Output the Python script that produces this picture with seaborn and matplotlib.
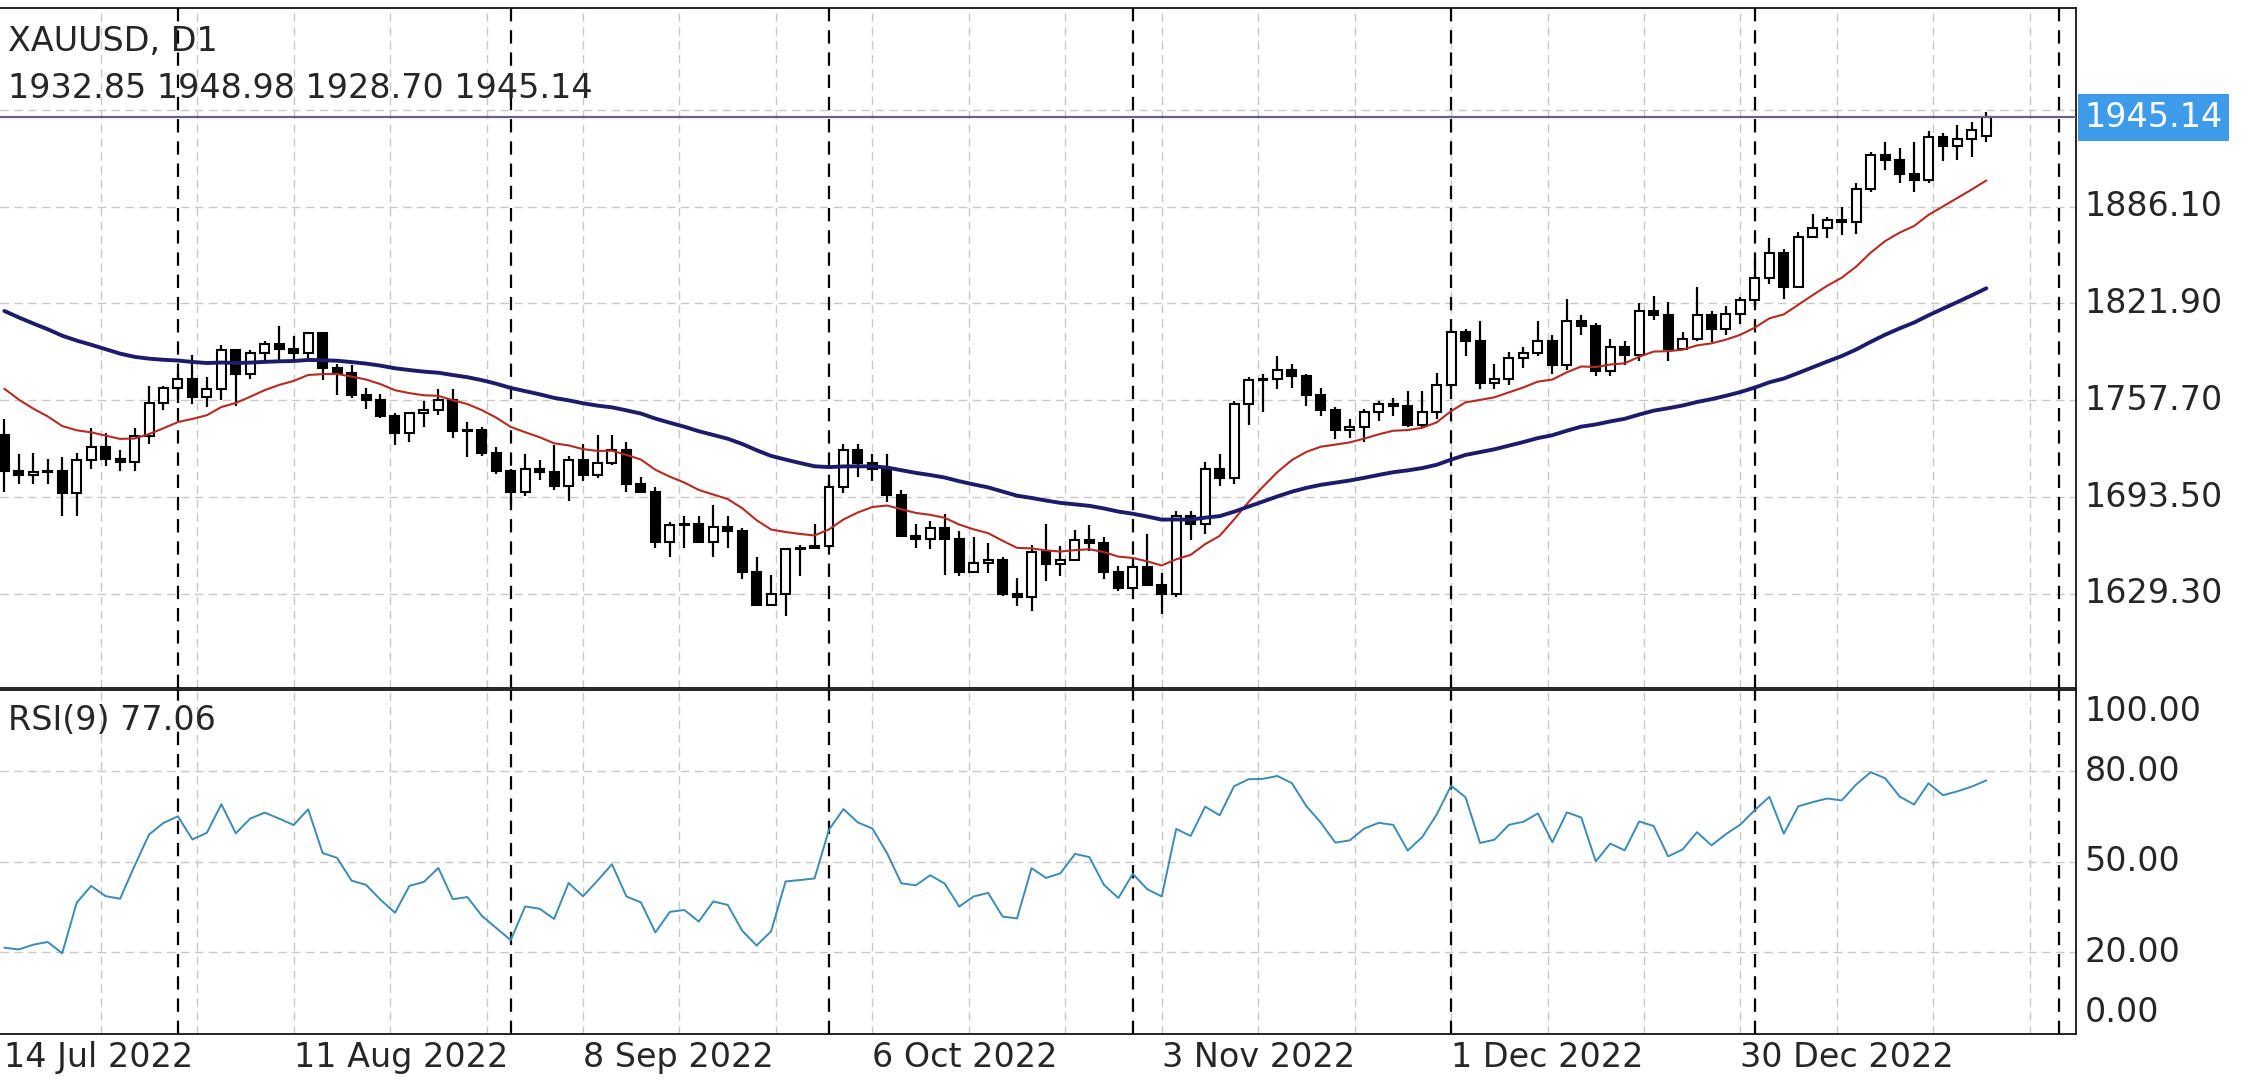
import numpy as np
import pandas as pd
import matplotlib
matplotlib.use("Agg")
import matplotlib.pyplot as plt
import seaborn as sns

# closes before the visible window, only used to warm up the averages / RSI
warmup_close = [1896, 1863, 1868, 1882, 1876, 1883, 1853, 1858, 1841, 1853, 1824, 1811, 1823, 1818,
                1815, 1841, 1842, 1846, 1866, 1853, 1849, 1837, 1847, 1870, 1851, 1841, 1852, 1853,
                1848, 1871, 1819, 1808, 1834, 1858, 1840, 1839, 1833, 1838, 1822, 1830, 1826, 1817,
                1807, 1811, 1764, 1739, 1740, 1742, 1733, 1725, 1735]

bar_open = [1735, 1711, 1708, 1710, 1711, 1696, 1718, 1727, 1719, 1717, 1734, 1756,
            1766, 1772, 1760, 1765, 1791, 1775, 1789, 1795, 1792, 1789, 1802, 1779, 1776, 1761, 1758, 1747,
            1736, 1749, 1751, 1758, 1737, 1738, 1723,
            1711, 1697, 1712, 1710, 1701, 1718, 1708, 1716, 1725, 1702, 1697, 1664, 1675, 1676, 1664, 1674,
            1671, 1644, 1622, 1629, 1659, 1660,
            1661, 1700, 1725, 1716, 1712, 1695, 1668, 1666, 1673, 1666, 1644, 1650, 1652, 1629, 1627, 1657,
            1649, 1652, 1665, 1663, 1644,
            1633, 1647, 1635, 1629, 1681, 1676, 1712, 1706, 1755, 1771, 1772, 1778, 1774, 1761, 1751, 1738,
            1740, 1750, 1755, 1754, 1741, 1750,
            1768, 1803, 1797, 1769, 1772, 1786, 1789, 1797, 1781, 1810, 1807, 1777, 1793, 1788, 1817, 1814,
            1792, 1798, 1814, 1805, 1815,
            1824, 1839, 1855, 1833, 1866, 1872, 1877, 1876, 1898, 1920, 1917, 1908, 1904, 1932, 1926, 1931,
            1932.85]
bar_high = [1745, 1722, 1723, 1719, 1720, 1723, 1739, 1736, 1725, 1739, 1767, 1767,
            1775, 1788, 1773, 1794, 1792, 1791, 1797, 1807, 1800, 1802, 1802, 1782, 1781, 1766, 1762, 1749,
            1750, 1757, 1765, 1765, 1743, 1740, 1727,
            1712, 1722, 1718, 1728, 1721, 1729, 1735, 1735, 1730, 1707, 1700, 1677, 1681, 1681, 1688, 1681,
            1673, 1654, 1642, 1660, 1662, 1676,
            1704, 1729, 1729, 1722, 1722, 1698, 1676, 1678, 1682, 1671, 1667, 1663, 1654, 1640, 1662, 1676,
            1661, 1672, 1675, 1667, 1648,
            1653, 1669, 1643, 1684, 1684, 1717, 1722, 1757, 1773, 1775, 1787, 1782, 1775, 1766, 1753, 1745,
            1752, 1757, 1759, 1764, 1764, 1776,
            1805, 1805, 1810, 1782, 1790, 1793, 1810, 1801, 1825, 1814, 1809, 1798, 1797, 1822, 1827, 1823,
            1803, 1833, 1817, 1820, 1826,
            1850, 1865, 1858, 1869, 1881, 1879, 1886, 1902, 1922, 1929, 1925, 1929, 1936, 1935, 1940, 1942,
            1948.98]
bar_low = [1697, 1702, 1702, 1702, 1681, 1681, 1712, 1714, 1711, 1711, 1729, 1751,
           1756, 1755, 1753, 1758, 1754, 1772, 1784, 1784, 1784, 1785, 1771, 1761, 1759, 1752, 1746, 1728,
           1730, 1740, 1748, 1733, 1720, 1721, 1709,
           1688, 1694, 1705, 1698, 1691, 1704, 1706, 1715, 1697, 1696, 1660, 1654, 1660, 1664, 1654, 1660,
           1639, 1622, 1621, 1615, 1641, 1659,
           1660, 1696, 1707, 1704, 1690, 1667, 1660, 1659, 1642, 1641, 1643, 1643, 1628, 1621, 1618, 1638,
           1641, 1651, 1658, 1639, 1631,
           1631, 1635, 1616, 1627, 1665, 1669, 1701, 1702, 1741, 1750, 1765, 1766, 1754, 1747, 1732, 1733,
           1730, 1744, 1747, 1740, 1740, 1745,
           1767, 1787, 1765, 1765, 1768, 1779, 1787, 1775, 1778, 1801, 1774, 1774, 1781, 1784, 1811, 1784,
           1791, 1797, 1796, 1801, 1808,
           1820, 1835, 1825, 1833, 1866, 1865, 1867, 1868, 1896, 1910, 1902, 1896, 1902, 1916, 1917, 1919,
           1928.70]
bar_close = [1711, 1708, 1710, 1711, 1696, 1718, 1727, 1719, 1717, 1734, 1756, 1766,
             1772, 1760, 1765, 1791, 1775, 1789, 1795, 1792, 1789, 1802, 1779, 1776, 1761, 1758, 1747, 1736,
             1749, 1751, 1758, 1737, 1738, 1723, 1711,
             1697, 1712, 1710, 1701, 1718, 1708, 1716, 1725, 1702, 1697, 1664, 1675, 1676, 1664, 1674, 1671,
             1644, 1622, 1629, 1659, 1660, 1661,
             1700, 1725, 1716, 1712, 1695, 1668, 1666, 1673, 1666, 1644, 1650, 1652, 1629, 1627, 1657, 1649,
             1652, 1665, 1663, 1644, 1633,
             1647, 1635, 1629, 1681, 1676, 1712, 1706, 1755, 1771, 1772, 1778, 1774, 1761, 1751, 1738, 1740,
             1750, 1755, 1754, 1741, 1750, 1768,
             1803, 1797, 1769, 1772, 1786, 1789, 1797, 1781, 1810, 1807, 1777, 1793, 1788, 1817, 1814, 1792,
             1798, 1814, 1805, 1815, 1824,
             1839, 1855, 1833, 1866, 1872, 1877, 1876, 1898, 1920, 1917, 1908, 1904, 1932, 1926, 1931, 1937,
             1945.14]

holidays = ["2022-12-26", "2023-01-02"]
all_days = pd.bdate_range("2022-07-14", "2023-02-10")
all_days = all_days[~all_days.isin(pd.to_datetime(holidays))]
dates = all_days[:len(bar_close)]

price_ticks = [1629.30, 1693.50, 1757.70, 1821.90, 1886.10]
rsi_ticks = [0, 20, 50, 80, 100]

# ---- indicators
full = pd.Series(warmup_close + bar_close, dtype=float)
n0 = len(warmup_close)
ema_fast = full.ewm(span=15, adjust=False).mean().iloc[n0:].to_numpy()
ema_slow = full.ewm(span=50, adjust=False).mean().iloc[n0:].to_numpy()
delta = full.diff()
gain = delta.clip(lower=0).ewm(alpha=1 / 9, adjust=False).mean()
loss = (-delta.clip(upper=0)).ewm(alpha=1 / 9, adjust=False).mean()
rsi = (100 - 100 / (1 + gain / loss)).iloc[n0:].to_numpy()

df = pd.DataFrame({"i": np.arange(len(bar_close)), "o": bar_open, "h": bar_high,
                   "l": bar_low, "c": bar_close, "fast": ema_fast, "slow": ema_slow, "rsi": rsi})

sns.set_style("white")
plt.rcParams["font.family"] = ["DejaVu Sans"]
FS = 24
fig = plt.figure(figsize=(22.64, 10.8), dpi=100)
ax = fig.add_axes([0.0, 0.363, 0.917, 0.630])
ax2 = fig.add_axes([0.0, 0.043, 0.917, 0.318], sharex=ax)

xmax = 143.2
grid_kw = dict(color="#c8c8c8", lw=1.0, ls=(0, (6, 4)), zorder=0)
vgrid = np.arange(20 / 3, xmax, 20 / 3)
month_idx = [k for k in range(1, len(all_days)) if all_days[k].month != all_days[k - 1].month]
for a in (ax, ax2):
    for x in vgrid:
        a.axvline(x, **grid_kw)
    for k in month_idx:
        if k < xmax:
            a.axvline(k, color="black", lw=1.6, ls=(0, (6, 4)), zorder=1)
    a.tick_params(left=False, labelleft=False, right=False, labelright=False, bottom=False)
    for s in a.spines.values():
        s.set_color("black")
        s.set_linewidth(1.2)
    a.spines["left"].set_visible(False)

# ---- candles
up = df[df.c >= df.o]
dn = df[df.c < df.o]
ax.vlines(df.i, df.l, df.h, color="black", lw=1.6, zorder=3)
ax.bar(up.i, up.c - up.o, bottom=up.o, width=0.62, color="white", edgecolor="black", lw=1.5, zorder=4)
ax.bar(dn.i, dn.o - dn.c, bottom=dn.c, width=0.62, color="black", edgecolor="black", lw=1.5, zorder=4)
sns.lineplot(data=df, x="i", y="fast", ax=ax, color="#b52a22", lw=1.5, zorder=5)
sns.lineplot(data=df, x="i", y="slow", ax=ax, color="#1c1c6b", lw=2.8, zorder=5)

for p in price_ticks:
    ax.axhline(p, **grid_kw)
ax.set_ylim(1567, 2018)
ax.set_xlim(-0.3, xmax)
ax.set_xlabel("")
ax.set_ylabel("")
last = bar_close[-1]
ax.axhline(last, color="#6e5e8c", lw=1.6, zorder=6)
ax.axhline(1950.3, **grid_kw)
for p in price_ticks:
    ax.text(1.004, p, f"{p:.2f}", transform=ax.get_yaxis_transform(), va="center", ha="left", fontsize=FS)
ax.text(1.004, last, f"{last:.2f}", transform=ax.get_yaxis_transform(), va="center", ha="left",
        fontsize=FS, color="white", bbox=dict(boxstyle="square,pad=0.2", fc="#3d9be9", ec="none"))
ax.text(0.004, 0.975, "XAUUSD, D1", transform=ax.transAxes, va="top", fontsize=FS)
ax.text(0.004, 0.905, f"{bar_open[-1]:.2f} {bar_high[-1]:.2f} {bar_low[-1]:.2f} {last:.2f}",
        transform=ax.transAxes, va="top", fontsize=FS)
ax.tick_params(labelbottom=False)

# ---- RSI
for r in (20, 50, 80):
    ax2.axhline(r, **grid_kw)
sns.lineplot(data=df, x="i", y="rsi", ax=ax2, color="#3b8bb5", lw=1.4, zorder=5)
ax2.set_ylim(-7, 107)
ax2.set_xlabel("")
ax2.set_ylabel("")
for r in rsi_ticks:
    ax2.text(1.004, r, f"{r:.2f}", transform=ax2.get_yaxis_transform(), va="center", ha="left", fontsize=FS)
ax2.text(0.004, 0.96, f"RSI(9) {rsi[-1]:.2f}", transform=ax2.transAxes, va="top", fontsize=FS)

xt = np.arange(0, len(dates), 20)
ax2.set_xticks(xt)
ax2.set_xticklabels([f"{d.day} {d:%b %Y}" for d in dates[xt]], ha="left", fontsize=FS)
ax2.tick_params(axis="x", labelbottom=True, pad=2)

fig.savefig("out.png", dpi=100)
